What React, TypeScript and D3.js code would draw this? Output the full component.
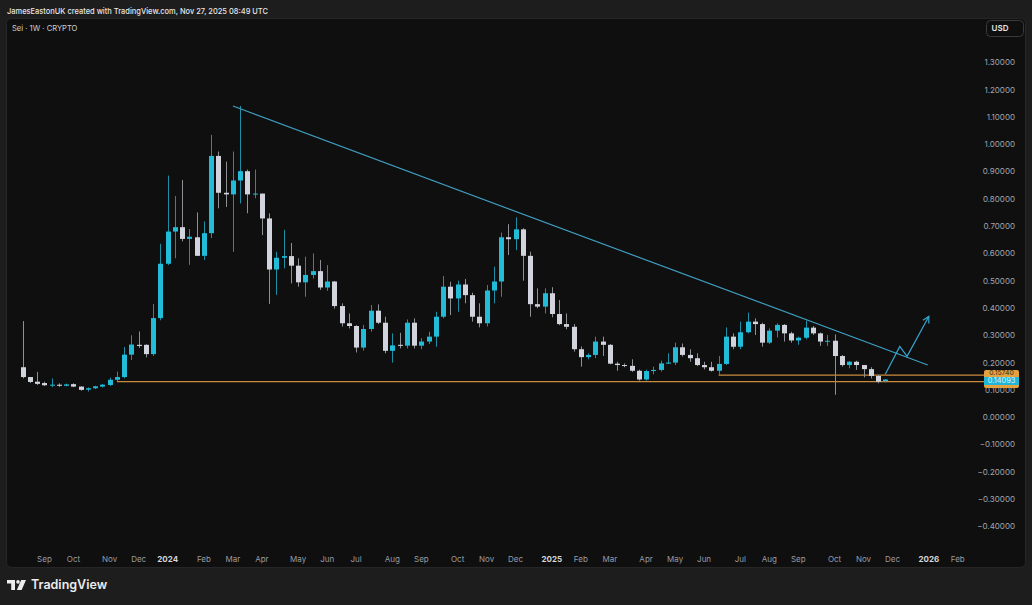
import React, { useEffect } from "react";
import * as d3 from "d3";

// Weekly SEI/USD candles, first week starting 2023-08-14 (Monday)
const firstWeek = "2023-08-14";
const opens = [
  0.186, 0.150, 0.133, 0.128, 0.120, 0.122, 0.118, 0.124, 0.115, 0.104,
  0.109, 0.115, 0.121, 0.140, 0.150, 0.232, 0.268, 0.268, 0.234, 0.366,
  0.565, 0.683, 0.699, 0.656, 0.662, 0.594, 0.677, 0.960, 0.825, 0.819,
  0.870, 0.904, 0.819, 0.822, 0.731, 0.544, 0.587, 0.593, 0.558, 0.497,
  0.524, 0.538, 0.478, 0.500, 0.410, 0.347, 0.337, 0.258, 0.326, 0.393,
  0.349, 0.246, 0.268, 0.265, 0.349, 0.265, 0.280, 0.298, 0.371, 0.481,
  0.438, 0.489, 0.450, 0.371, 0.347, 0.467, 0.500, 0.662, 0.655, 0.691,
  0.594, 0.417, 0.408, 0.457, 0.381, 0.344, 0.334, 0.252, 0.223, 0.231,
  0.280, 0.268, 0.199, 0.194, 0.191, 0.173, 0.141, 0.172, 0.176, 0.200,
  0.203, 0.259, 0.231, 0.219, 0.194, 0.186, 0.173, 0.198, 0.298, 0.261,
  0.314, 0.353, 0.344, 0.276, 0.320, 0.341, 0.310, 0.284, 0.294, 0.331,
  0.310, 0.280, 0.283, 0.227, 0.194, 0.206, 0.194, 0.179, 0.154, 0.135,
];
const highs = [
  0.355, 0.150, 0.169, 0.133, 0.145, 0.127, 0.126, 0.127, 0.116, 0.112,
  0.118, 0.125, 0.148, 0.170, 0.260, 0.303, 0.317, 0.270, 0.418, 0.638,
  0.888, 0.813, 0.872, 0.692, 0.753, 0.720, 1.037, 0.976, 0.939, 0.976,
  1.143, 0.910, 0.910, 0.822, 0.750, 0.609, 0.689, 0.641, 0.585, 0.591,
  0.603, 0.579, 0.560, 0.502, 0.420, 0.383, 0.340, 0.341, 0.414, 0.416,
  0.371, 0.310, 0.312, 0.361, 0.365, 0.292, 0.316, 0.389, 0.520, 0.499,
  0.503, 0.509, 0.459, 0.420, 0.487, 0.554, 0.679, 0.710, 0.735, 0.695,
  0.609, 0.475, 0.475, 0.479, 0.432, 0.383, 0.344, 0.262, 0.237, 0.298,
  0.298, 0.271, 0.206, 0.200, 0.215, 0.177, 0.177, 0.188, 0.210, 0.237,
  0.276, 0.273, 0.252, 0.237, 0.206, 0.206, 0.227, 0.332, 0.310, 0.353,
  0.386, 0.365, 0.349, 0.328, 0.347, 0.344, 0.316, 0.298, 0.357, 0.337,
  0.313, 0.304, 0.306, 0.231, 0.209, 0.210, 0.194, 0.186, 0.158, 0.143,
];
const lows = [
  0.145, 0.128, 0.121, 0.117, 0.113, 0.114, 0.116, 0.113, 0.100, 0.097,
  0.106, 0.112, 0.117, 0.135, 0.145, 0.212, 0.257, 0.222, 0.227, 0.358,
  0.560, 0.585, 0.647, 0.561, 0.594, 0.579, 0.659, 0.768, 0.773, 0.609,
  0.786, 0.750, 0.805, 0.670, 0.418, 0.451, 0.548, 0.493, 0.481, 0.444,
  0.511, 0.469, 0.466, 0.401, 0.335, 0.328, 0.240, 0.247, 0.316, 0.344,
  0.237, 0.203, 0.255, 0.255, 0.255, 0.252, 0.271, 0.261, 0.365, 0.377,
  0.389, 0.420, 0.353, 0.332, 0.335, 0.420, 0.444, 0.597, 0.615, 0.503,
  0.371, 0.402, 0.383, 0.369, 0.340, 0.325, 0.243, 0.188, 0.215, 0.219,
  0.227, 0.197, 0.173, 0.186, 0.169, 0.137, 0.137, 0.160, 0.170, 0.198,
  0.194, 0.225, 0.206, 0.190, 0.178, 0.170, 0.158, 0.194, 0.252, 0.252,
  0.310, 0.304, 0.261, 0.271, 0.295, 0.280, 0.276, 0.268, 0.288, 0.304,
  0.264, 0.264, 0.085, 0.188, 0.182, 0.176, 0.149, 0.145, 0.127, 0.130,
];
const closes = [
  0.150, 0.132, 0.125, 0.120, 0.122, 0.118, 0.123, 0.115, 0.103, 0.109,
  0.116, 0.122, 0.140, 0.150, 0.232, 0.269, 0.264, 0.234, 0.366, 0.565,
  0.683, 0.699, 0.656, 0.664, 0.594, 0.677, 0.960, 0.825, 0.819, 0.870,
  0.904, 0.819, 0.822, 0.731, 0.544, 0.587, 0.593, 0.558, 0.497, 0.524,
  0.538, 0.478, 0.500, 0.410, 0.347, 0.337, 0.258, 0.326, 0.393, 0.349,
  0.246, 0.266, 0.265, 0.349, 0.265, 0.280, 0.298, 0.371, 0.481, 0.438,
  0.489, 0.450, 0.371, 0.347, 0.467, 0.500, 0.662, 0.655, 0.691, 0.594,
  0.417, 0.408, 0.457, 0.381, 0.344, 0.334, 0.252, 0.223, 0.231, 0.280,
  0.268, 0.199, 0.194, 0.191, 0.173, 0.141, 0.172, 0.176, 0.200, 0.203,
  0.259, 0.231, 0.219, 0.194, 0.186, 0.173, 0.198, 0.298, 0.261, 0.314,
  0.353, 0.344, 0.276, 0.320, 0.341, 0.310, 0.284, 0.294, 0.331, 0.310,
  0.280, 0.283, 0.227, 0.194, 0.206, 0.194, 0.179, 0.154, 0.133, 0.141,
];

const priceTicks = [1.3, 1.2, 1.1, 1.0, 0.9, 0.8, 0.7, 0.6, 0.5, 0.4, 0.3, 0.2, 0.1, 0.0, -0.1, -0.2, -0.3, -0.4];
const monthStart = "2023-09-01";
const monthEnd = "2026-02-01";

// drawings
const trendLine: [string, number][] = [["2024-03-04", 1.143], ["2026-01-04", 0.194]];
const projection: [string, number][] = [["2025-11-24", 0.160], ["2025-12-08", 0.262], ["2025-12-15", 0.226], ["2026-01-05", 0.372]];
const supportLines: [string, number][] = [["2023-11-13", 0.1331], ["2025-06-16", 0.1574]];
const lastPrice = 0.14093;
const supportLabel = "0.15740";

const W = 1032, H = 605;
const BG = "#1d1d1d", PANE = "#0f0f0f";
const UP = "#22bcd9", DOWN = "#d1d4dc";
const UP_WICK = "#1d8ea6", DOWN_WICK = "#8e9096";
const FONT = "Inter, Roboto, 'Noto Sans', sans-serif";

export default function App() {
  useEffect(() => {
    document.body.style.margin = "0";
    document.body.style.background = BG;
  }, []);

  const parse = d3.utcParse("%Y-%m-%d");
  const start = parse(firstWeek)!;
  const dates = opens.map((_, i) => d3.utcWeek.offset(start, i));
  const x = d3.scaleUtc().domain([dates[0], dates[dates.length - 1]]).range([22.7, 885.3]);
  const y = d3.scaleLinear().domain([0, 1.3]).range([418, 63.1]);
  const bodyW = 5;
  const plotRight = 984;

  const months = d3.utcMonth.range(parse(monthStart)!, d3.utcDay.offset(parse(monthEnd)!, 1));
  const monthLabels = months.map((m) => {
    const d = d3.utcMonday.ceil(m);
    const isYear = m.getUTCMonth() === 0;
    return { x: x(d), text: isYear ? d3.utcFormat("%Y")(m) : d3.utcFormat("%b")(m), isYear };
  });

  const fmt = (v: number) => {
    const s = Math.abs(v).toFixed(5);
    return v < -1e-9 ? "\u2212" + s : s;
  };

  const line = d3.line<[string, number]>().x((d) => x(parse(d[0])!)).y((d) => y(d[1]));

  // arrow head for projection
  const pN = projection[projection.length - 1];
  const pM = projection[projection.length - 2];
  const ex = x(parse(pN[0])!), ey = y(pN[1]);
  const mx = x(parse(pM[0])!), my = y(pM[1]);
  const ang = Math.atan2(ey - my, ex - mx);
  const hl = 7;
  const head = `M${ex + hl * Math.cos(ang + Math.PI - 0.5)},${ey + hl * Math.sin(ang + Math.PI - 0.5)}L${ex},${ey}L${ex + hl * Math.cos(ang + Math.PI + 0.5)},${ey + hl * Math.sin(ang + Math.PI + 0.5)}`;

  return (
    <svg width={W} height={H} style={{ display: "block" }} fontFamily={FONT}>
      <rect x={0} y={0} width={W} height={H} fill={BG} />
      <text x={7} y={11.5} fontSize={8} fill="#e6e6e6" dominantBaseline="middle" fontWeight={500} textLength={261} lengthAdjust="spacingAndGlyphs">
        JamesEastonUK created with TradingView.com, Nov 27, 2025 08:49 UTC
      </text>
      <rect x={6.5} y={18.5} width={1019} height={549} rx={5} fill={PANE} stroke="#262626" />
      <text x={12} y={28.5} fontSize={7.6} fill="#d0d0d0" dominantBaseline="middle">
        Sei · 1W · CRYPTO
      </text>
      <rect x={986.5} y={20.5} width={37} height={16} rx={4} fill={PANE} stroke="#3a3a3a" />
      <text x={1000} y={28.8} fontSize={8} fill="#e6e6e6" textAnchor="middle" dominantBaseline="middle" fontWeight={600}>
        USD
      </text>

      {/* price axis labels */}
      {priceTicks.map((t) => (
        <text key={t} x={1015} y={y(t)} fontSize={8} fill="#a3a6ad" textAnchor="end" dominantBaseline="middle">
          {fmt(t)}
        </text>
      ))}

      {/* support lines */}
      {supportLines.map((s, i) => (
        <line key={i} x1={x(parse(s[0])!)} x2={plotRight} y1={y(s[1])} y2={y(s[1])} stroke="#c98b3e" strokeWidth={1.2} />
      ))}

      {/* candles */}
      {dates.map((d, i) => {
        const up = closes[i] >= opens[i];
        const cx = Math.round(x(d)) + 0.5;
        const top = y(Math.max(opens[i], closes[i]));
        const bot = y(Math.min(opens[i], closes[i]));
        return (
          <g key={i}>
            <line x1={cx} x2={cx} y1={y(highs[i])} y2={y(lows[i])} stroke={up ? UP_WICK : DOWN_WICK} strokeWidth={1} />
            <rect x={cx - bodyW / 2} y={top} width={bodyW} height={Math.max(1, bot - top)} fill={up ? UP : DOWN} />
          </g>
        );
      })}

      {/* trend line and projection */}
      <path d={line(trendLine)!} fill="none" stroke="#3f9fc2" strokeWidth={1.2} />
      <path d={line(projection)!} fill="none" stroke="#33a7d0" strokeWidth={1.2} />
      <path d={head} fill="none" stroke="#33a7d0" strokeWidth={1.2} />

      {/* price labels */}
      <rect x={984} y={370} width={35} height={18} rx={2} fill="#e3a23f" />
      <text x={1001.5} y={373.2} fontSize={6.8} fill="#3a2a10" textAnchor="middle" dominantBaseline="middle">
        {supportLabel}
      </text>
      <rect x={984} y={377} width={35} height={8} fill="#22b5d6" />
      <text x={1001.5} y={381.2} fontSize={7.4} fill="#d8f5ff" textAnchor="middle" dominantBaseline="middle">
        {lastPrice.toFixed(5)}
      </text>

      {/* time axis */}
      {monthLabels.map((m, i) => (
        <text key={i} x={m.x} y={559.5} fontSize={8} fill={m.isYear ? "#d6d6d6" : "#9a9ca2"} fontWeight={m.isYear ? 700 : 400} textAnchor="middle" dominantBaseline="middle">
          {m.text}
        </text>
      ))}

      {/* TradingView logo */}
      <g transform="translate(7,580)" fill="#ececec">
        <path d="M0 0 H8 V10 H4.2 V3.4 H0 Z" />
        <circle cx={11} cy={1.9} r={1.8} />
        <path d="M14.2 0 H19 L14.6 10 H9.8 Z" />
      </g>
      <text x={31} y={585.5} fontSize={12.5} fontWeight={600} fill="#ececec" dominantBaseline="middle">
        TradingView
      </text>
    </svg>
  );
}
